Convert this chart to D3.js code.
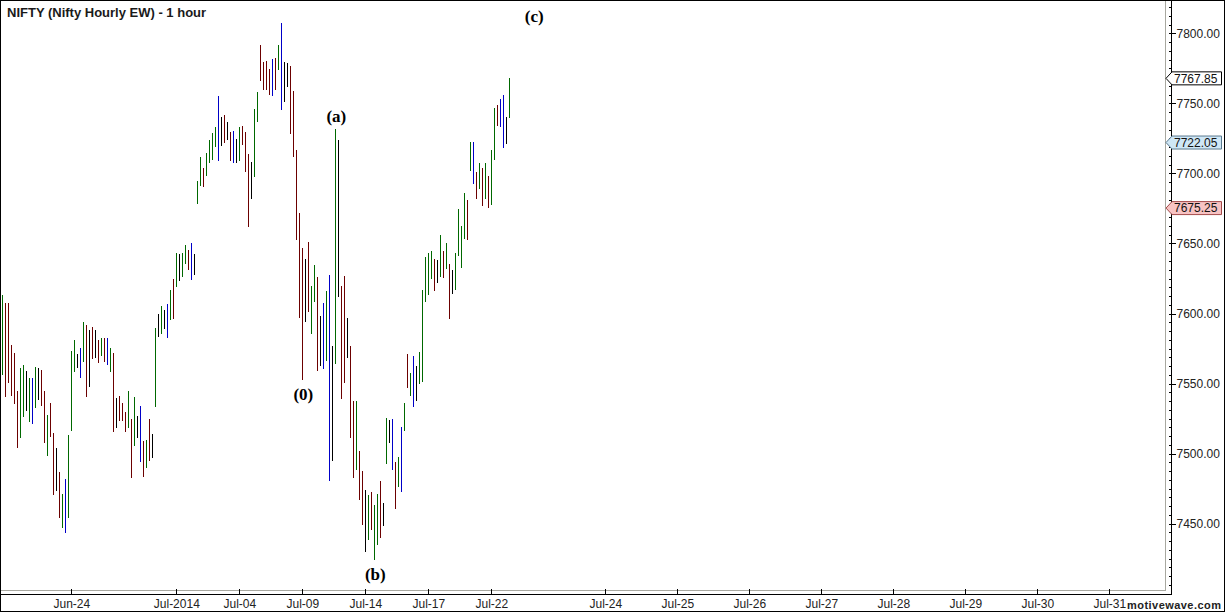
<!DOCTYPE html>
<html><head><meta charset="utf-8">
<script src="https://cdn.jsdelivr.net/npm/d3@7/dist/d3.min.js"></script>
<style>body{margin:0;background:#fff}svg{display:block}</style>
</head><body><svg id="chart" width="1225" height="612"></svg>
<script>
// ---- data (hourly bars, index 0 = first bar on the chart) ----
const highs = [
7613.2,7607.3,7607.3,7577.5,7571.6,7544.7,7560.9,7563.2,7559.0,7553.7,
7553.7,7561.8,7560.9,7559.5,7544.7,7527.5,7536.3,7514.5,7503.8,7486.6,
7470.9,7481.9,7513.3,7573.2,7581.1,7571.1,7575.6,7594.1,7591.8,7588.2,
7590.4,7588.2,7581.1,7582.5,7582.5,7582.5,7575.4,7572.0,7539.9,7541.1,
7536.3,7529.9,7544.9,7524.7,7540.4,7526.8,7534.0,7509.2,7509.7,7524.7,
7514.0,7589.4,7599.6,7605.6,7602.5,7606.8,7616.8,7624.8,7643.2,7642.5,
7643.2,7648.9,7645.3,7650.3,7642.5,7694.8,7711.7,7703.9,7714.6,7723.8,
7728.8,7733.1,7755.2,7740.3,7741.7,7736.7,7729.5,7730.3,7724.6,7733.1,
7733.8,7729.5,7713.8,7708.3,7746.0,7758.1,7791.4,7779.5,7780.2,7774.5,
7781.7,7782.4,7791.6,7807.4,7779.5,7778.8,7776.7,7758.8,7716.7,7671.9,
7646.5,7638.9,7651.2,7619.6,7634.6,7626.3,7598.4,7607.7,7616.1,7627.5,
7577.0,7731.7,7723.8,7619.6,7626.8,7597.0,7577.0,7537.8,7537.8,7502.1,
7487.8,7474.0,7470.4,7472.6,7463.3,7471.1,7480.4,7464.9,7525.6,7524.0,
7524.7,7494.0,7497.6,7519.0,7536.1,7571.1,7557.5,7569.7,7562.5,7572.5,
7616.8,7640.3,7643.2,7644.6,7638.9,7638.2,7656.0,7644.6,7650.3,7635.3,
7631.0,7643.2,7674.6,7662.5,7686.0,7681.0,7722.4,7722.4,7701.0,7707.4,
7703.9,7707.4,7698.1,7716.7,7746.7,7748.8,7753.1,7756.0,7740.3,7768.1];
const lows = [
7556.1,7540.6,7550.6,7541.3,7535.2,7504.2,7511.3,7526.3,7530.4,7522.8,
7521.3,7532.8,7538.3,7534.2,7507.8,7498.5,7512.1,7470.4,7473.5,7453.8,
7447.1,7443.1,7454.2,7516.3,7558.5,7560.9,7554.2,7565.6,7540.6,7547.7,
7567.3,7568.5,7564.9,7569.9,7565.6,7563.5,7558.5,7515.6,7518.5,7523.5,
7523.5,7515.6,7518.5,7482.8,7505.6,7510.9,7494.2,7483.5,7489.5,7494.9,
7497.1,7533.5,7583.0,7585.6,7588.9,7582.7,7595.6,7596.3,7619.1,7623.4,
7626.3,7635.5,7631.3,7624.1,7627.7,7678.2,7691.0,7690.3,7698.1,7707.6,
7709.6,7719.1,7709.1,7719.8,7721.9,7724.1,7709.1,7707.6,7707.6,7709.1,
7720.5,7701.2,7662.0,7681.9,7697.6,7736.9,7766.2,7759.7,7759.7,7756.2,
7755.5,7759.7,7774.0,7745.5,7751.2,7761.9,7727.9,7711.9,7652.5,7596.6,
7552.5,7594.1,7601.3,7585.4,7608.4,7559.0,7562.7,7560.4,7566.3,7480.6,
7494.9,7563.7,7612.0,7538.8,7550.2,7568.0,7510.9,7482.4,7488.3,7466.9,
7449.0,7429.8,7438.3,7445.5,7424.1,7434.8,7440.0,7448.5,7492.8,7507.8,
7488.5,7460.7,7476.4,7472.8,7516.3,7547.0,7541.3,7533.5,7537.8,7549.9,
7551.3,7608.4,7613.4,7624.8,7616.3,7622.0,7626.3,7625.5,7632.0,7596.3,
7614.1,7617.0,7641.3,7632.7,7653.4,7652.7,7701.9,7692.6,7681.9,7689.1,
7676.9,7681.9,7675.5,7677.7,7709.8,7734.0,7733.3,7718.3,7721.2,7739.8];
// bar colour class: G up, R down, B blue, K neutral
const barKinds = (
"GRRRRRGGKG"+"BGKRRGRRKR"+"GBGGGKBGRK"+"RKRGRBGRKR"+"RRGRGKBRGR"+
"KGKGKBGRGK"+"GGRBKGGRGG"+"GGBKRKRBKG"+"RRRKGGRRRR"+"BRGBKKRRRR"+
"RKRGGRKBGB"+"KGKRRKRRGR"+"RKGRGGRKGK"+"BRGBGRGBKG"+"GGGGRKGRGR"+
"KGGGGRGBRG"+"RGRGGRBBKG").split("");

const tickSlots  = [23,58,79,100,121,142,163,201,225,249,273,297,321,345,369];
const tickLabels = ["Jun-24","Jul-2014","Jul-04","Jul-09","Jul-14","Jul-17","Jul-22",
                    "Jul-24","Jul-25","Jul-26","Jul-27","Jul-28","Jul-29","Jul-30","Jul-31"];
const priceTicks = [7450,7500,7550,7600,7650,7700,7750,7800];
const markerValues = [7767.85,7722.05,7675.25];

const waveTexts  = ["(0)","(a)","(b)","(c)"];
const waveSlots  = [100,111,124,177];
const wavePrices = [lows[100],highs[111],lows[124],7812];
const wavePlaces = ["below","above","below","center"];

const titleText = "NIFTY (Nifty Hourly EW) - 1 hour";

// ---- layout / styles ----
const W=1225,H=612;
const plotR=1165.5, plotB=590.5, axX=1171.5, axY=594.5;
const kindColor = {G:"#006800",R:"#6c0000",B:"#0000c8",K:"#000000"};
const markerFill=["#ffffff","#cfe7f6","#f7c3c3"], markerStroke=["#000000","#5b7b90","#a44a4a"];

const svg=d3.select("#chart");
const x=d3.scaleLinear().domain([0,387.73]).range([2.3,plotR]);
const y=d3.scaleLinear().domain([7450,7800]).range([523.7,33.3]);

svg.append("rect").attr("width",W).attr("height",H).attr("fill","#fff");

svg.append("defs").append("clipPath").attr("id","plotclip")
  .append("rect").attr("x",0).attr("y",0).attr("width",plotR).attr("height",plotB);

// title
svg.append("text").attr("x",7).attr("y",17)
  .attr("font-family","Liberation Sans, Arial, sans-serif").attr("font-weight","bold")
  .attr("font-size",13).attr("fill","#1a1a1a").text(titleText);

// bars
const bars=svg.append("g").attr("clip-path","url(#plotclip)").attr("shape-rendering","crispEdges");
bars.selectAll("rect").data(highs.map((h,i)=>({i,h,l:lows[i],k:barKinds[i]})))
  .join("rect")
  .attr("x",d=>Math.floor(x(d.i)))
  .attr("width",1)
  .attr("y",d=>y(d.h))
  .attr("height",d=>Math.max(1,y(d.l)-y(d.h)))
  .attr("fill",d=>kindColor[d.k]);

// wave labels
svg.append("g").selectAll("text").data(waveTexts).join("text")
  .attr("x",(d,i)=>x(waveSlots[i])+1)
  .attr("y",(d,i)=>{const yy=y(wavePrices[i]);return wavePlaces[i]==="above"?yy-7:wavePlaces[i]==="below"?yy+20:yy+6;})
  .attr("text-anchor","middle")
  .attr("font-family","Liberation Serif, Times New Roman, serif")
  .attr("font-weight","bold").attr("font-size",17).attr("fill","#000")
  .text(d=>d);

// plot border lines
const lines=svg.append("g").attr("shape-rendering","crispEdges");
lines.append("line").attr("x1",plotR).attr("x2",plotR).attr("y1",0).attr("y2",plotB).attr("stroke","#a8a8a0");
lines.append("line").attr("x1",0).attr("x2",plotR).attr("y1",plotB).attr("y2",plotB).attr("stroke","#a8a8a0");
lines.append("line").attr("x1",axX).attr("x2",axX).attr("y1",0).attr("y2",axY).attr("stroke","#000");
lines.append("line").attr("x1",0).attr("x2",axX).attr("y1",axY).attr("y2",axY).attr("stroke","#000");

// y axis: minor ticks (inside) and major ticks + labels (outside)
const minorVals=d3.range(7406.25,7823,6.25);
const yMinor=svg.append("g").attr("transform",`translate(${axX},0)`)
  .call(d3.axisLeft(y).tickValues(minorVals).tickSize(3).tickFormat(""));
const yMajor=svg.append("g").attr("transform",`translate(${axX},0)`)
  .call(d3.axisRight(y).tickValues(priceTicks).tickSize(4).tickPadding(1).tickFormat(d3.format(".2f")));
[yMinor,yMajor].forEach(g=>{g.select(".domain").remove();g.attr("shape-rendering","crispEdges");});
yMajor.selectAll("text").attr("font-family","Liberation Sans, Arial, sans-serif").attr("font-size",12).attr("fill","#222");

// x axis
const xAx=svg.append("g").attr("transform",`translate(0,${axY})`)
  .call(d3.axisBottom(x).tickValues(tickSlots).tickFormat((d,i)=>tickLabels[i])
        .tickSizeInner(-6).tickSizeOuter(0).tickPadding(5));
xAx.select(".domain").remove();
xAx.attr("shape-rendering","crispEdges");
xAx.selectAll("text").attr("font-family","Liberation Sans, Arial, sans-serif").attr("font-size",12).attr("fill","#222");

// price markers
const mk=svg.append("g").selectAll("g").data(markerValues).join("g")
  .attr("transform",d=>`translate(0,${y(d)})`);
mk.append("path")
  .attr("d","M1166,0 L1172,-6.5 L1221.5,-6.5 L1221.5,6.5 L1172,6.5 Z")
  .attr("fill",(d,i)=>markerFill[i]).attr("stroke",(d,i)=>markerStroke[i]);
mk.append("text").attr("x",1174).attr("y",4.3)
  .attr("font-family","Liberation Sans, Arial, sans-serif").attr("font-size",12).attr("fill","#111")
  .text(d=>d.toFixed(2));

// watermark
svg.append("text").attr("x",1127).attr("y",609)
  .attr("font-family","Liberation Sans, Arial, sans-serif").attr("font-weight","bold")
  .attr("font-size",11).attr("fill","#222").attr("textLength",94).attr("lengthAdjust","spacing")
  .text("motivewave.com");

// outer frame
svg.append("rect").attr("x",0.5).attr("y",0.5).attr("width",W-1).attr("height",H-1)
  .attr("fill","none").attr("stroke","#000").attr("shape-rendering","crispEdges");
</script></body></html>
